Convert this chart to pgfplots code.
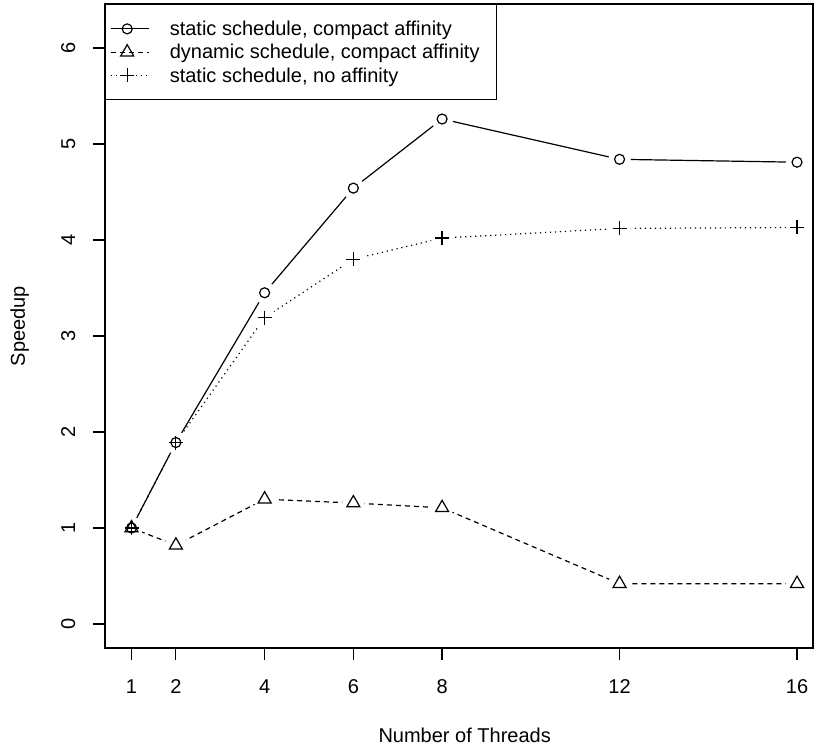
\documentclass[border=0pt]{standalone}
\usepackage{fontspec}
\setmainfont{Liberation Sans}
\usepackage{pgfplots}
\pgfplotsset{compat=1.18}
\begin{document}
\fontsize{20}{24}\selectfont
\begin{tikzpicture}[x=1pt,y=1pt]
\useasboundingbox (0,0) rectangle (815,747);
\begin{axis}[
  at={(105pt,99pt)}, anchor=south west,
  scale only axis, width=708pt, height=644pt,
  xmin=0.402, xmax=16.36, ymin=-0.25, ymax=6.458,
  xtick={1,2,4,6,8,12,16}, ytick={0,1,2,3,4,5,6},
  tick align=outside, tick pos=left, major tick length=12pt,
  axis line style={line width=1.2pt},
  every tick/.style={black, line width=1.2pt},
  /pgf/number format/assume math mode=true,
  xticklabel style={anchor=base, inner sep=0pt},
  xticklabel shift=34pt,
  yticklabel style={rotate=90, anchor=base, inner sep=0pt},
  yticklabel shift=18pt,
  xlabel={Number of Threads}, ylabel={Speedup},
  xlabel style={at={(axis description cs:0.508,-0.146)}, anchor=base, inner sep=0pt},
  ylabel style={at={(axis description cs:-0.113,0.5)}, anchor=base, inner sep=0pt},
  legend style={at={(axis description cs:0,1)}, anchor=north west, draw=black,
    line width=1.2pt, inner xsep=5pt, inner ysep=14.5pt, column sep=20pt, row sep=3.7pt,
    nodes={inner sep=0pt, text height=16.6pt}},
  legend cell align=left,
  legend image code/.code={\draw[mark repeat=2,mark phase=2,#1] plot coordinates {(0pt,0pt) (16pt,0pt) (38pt,0pt)};},
]
\addplot[black, line width=1.2pt, mark=o, mark size=5pt, mark options={solid}]
  coordinates {(1,1.00) (2,1.89) (4,3.45) (6,4.54) (8,5.26) (12,4.84) (16,4.81)};
\addlegendentry{static schedule, compact affinity}
\addplot[black, line width=1.2pt, dash pattern=on 5pt off 4pt, mark=triangle, mark size=7.5pt, mark options={solid}]
  coordinates {(1,1.00) (2,0.82) (4,1.30) (6,1.26) (8,1.21) (12,0.42) (16,0.42)};
\addlegendentry{dynamic schedule, compact affinity\hspace*{12pt}}
\addplot[black, line width=1.2pt, dash pattern=on 1.2pt off 3.8pt, mark=+, mark size=7pt, mark options={solid}]
  coordinates {(1,1.00) (2,1.89) (4,3.19) (6,3.80) (8,4.02) (12,4.12) (16,4.13)};
\addlegendentry{static schedule, no affinity}
% gaps around points (type "b")
\addplot[forget plot, only marks, white, mark=*, mark size=11pt]
  coordinates {(1,1.00) (2,1.89) (4,3.45) (6,4.54) (8,5.26) (12,4.84) (16,4.81)};
\addplot[forget plot, only marks, white, mark=*, mark size=11pt]
  coordinates {(1,1.00) (2,0.82) (4,1.30) (6,1.26) (8,1.21) (12,0.42) (16,0.42)};
\addplot[forget plot, only marks, white, mark=*, mark size=11pt]
  coordinates {(1,1.00) (2,1.89) (4,3.19) (6,3.80) (8,4.02) (12,4.12) (16,4.13)};
\addplot[forget plot, only marks, black, line width=1.2pt, mark=o, mark size=5pt]
  coordinates {(1,1.00) (2,1.89) (4,3.45) (6,4.54) (8,5.26) (12,4.84) (16,4.81)};
\addplot[forget plot, only marks, black, line width=1.2pt, mark=triangle, mark size=7.5pt]
  coordinates {(1,1.00) (2,0.82) (4,1.30) (6,1.26) (8,1.21) (12,0.42) (16,0.42)};
\addplot[forget plot, only marks, black, line width=1.2pt, mark=+, mark size=7pt]
  coordinates {(1,1.00) (2,1.89) (4,3.19) (6,3.80) (8,4.02) (12,4.12) (16,4.13)};
\end{axis}
\end{tikzpicture}
\end{document}
